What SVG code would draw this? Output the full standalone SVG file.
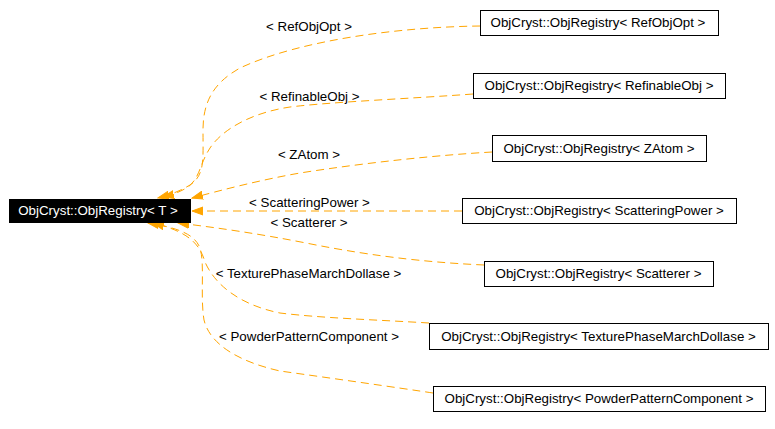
<svg xmlns="http://www.w3.org/2000/svg" width="775" height="429" viewBox="0 0 775 429">
<style>
text{font-family:"Liberation Sans",Arial,Helvetica,sans-serif;font-size:13.33px;fill:#000}
.box{fill:#fff;stroke:#000;stroke-width:1}
.main{fill:#000;stroke:#000}
.mt{fill:#fff}
.edge{fill:none;stroke:#FFA500;stroke-width:1;stroke-dasharray:8,5}
.lbl{text-anchor:middle}
.nt{text-anchor:middle}
</style>
<defs>
<marker id="arr" markerUnits="userSpaceOnUse" markerWidth="12" markerHeight="10" refX="11" refY="4" orient="auto" viewBox="0 0 12 8">
<path d="M0,0 L11,4 L0,8 z" fill="#FFA500" stroke="#FFA500" stroke-width="1"/>
</marker>
</defs>
<rect width="775" height="429" fill="#fff"/>
<g id="connectors">
<path class="edge" marker-end="url(#arr)" d="M480,26 C400,27 300,40 240,68 C215,82 203,100 203,130 C203,160 205,175 190,185 C180,191 170,195 158,198"/>
<path class="edge" marker-end="url(#arr)" d="M473,94 C420,98 330,102 290,107 C250,113 222,130 210,148 C200,163 200,178 188,187 C180,192 172,195 163,197"/>
<path class="edge" marker-end="url(#arr)" d="M492,152 C440,155 370,162 300,173 C260,180 222,190 192,198"/>
<path class="edge" marker-end="url(#arr)" d="M462,211 L192,211"/>
<path class="edge" marker-end="url(#arr)" d="M484,265 C440,263 380,258 306,243 C260,234 220,228 178,223"/>
<path class="edge" marker-end="url(#arr)" d="M429,323 C380,320 320,318 280,313 C240,305 215,285 205,262 C200,245 190,232 153,223"/>
<path class="edge" marker-end="url(#arr)" d="M433,393 C400,388 330,378 280,371 C240,362 210,345 204,320 C200,295 205,265 200,248 C195,235 180,228 148,223"/>
<text class="lbl" x="309" y="31">&lt; RefObjOpt &gt;</text>
<text class="lbl" x="309.5" y="101">&lt; RefinableObj &gt;</text>
<text class="lbl" x="309" y="159">&lt; ZAtom &gt;</text>
<text class="lbl" x="309.5" y="207">&lt; ScatteringPower &gt;</text>
<text class="lbl" x="309" y="227">&lt; Scatterer &gt;</text>
<text class="lbl" x="308.5" y="278">&lt; TexturePhaseMarchDollase &gt;</text>
<text class="lbl" x="309" y="341">&lt; PowderPatternComponent &gt;</text>
</g>
<g id="node_T">
<rect class="main" x="9.5" y="199.5" width="181" height="23"/>
<text class="nt mt" x="98" y="215">ObjCryst::ObjRegistry&lt; T &gt;</text>
</g>
<g id="node_RefObjOpt">
<rect class="box" x="480.5" y="10.5" width="238" height="25"/>
<text class="nt" x="598" y="27">ObjCryst::ObjRegistry&lt; RefObjOpt &gt;</text>
</g>
<g id="node_RefinableObj">
<rect class="box" x="473.5" y="73.5" width="252" height="25"/>
<text class="nt" x="599" y="90">ObjCryst::ObjRegistry&lt; RefinableObj &gt;</text>
</g>
<g id="node_ZAtom">
<rect class="box" x="492.5" y="135.5" width="214" height="26"/>
<text class="nt" x="599" y="153">ObjCryst::ObjRegistry&lt; ZAtom &gt;</text>
</g>
<g id="node_ScatteringPower">
<rect class="box" x="462.5" y="198.5" width="274" height="25"/>
<text class="nt" x="599" y="215">ObjCryst::ObjRegistry&lt; ScatteringPower &gt;</text>
</g>
<g id="node_Scatterer">
<rect class="box" x="484.5" y="261.5" width="229" height="25"/>
<text class="nt" x="598.5" y="278">ObjCryst::ObjRegistry&lt; Scatterer &gt;</text>
</g>
<g id="node_TexturePhaseMarchDollase">
<rect class="box" x="429.5" y="323.5" width="339" height="26"/>
<text class="nt" x="598.5" y="341">ObjCryst::ObjRegistry&lt; TexturePhaseMarchDollase &gt;</text>
</g>
<g id="node_PowderPatternComponent">
<rect class="box" x="433.5" y="386.5" width="332" height="25"/>
<text class="nt" x="599" y="403">ObjCryst::ObjRegistry&lt; PowderPatternComponent &gt;</text>
</g>
</svg>
